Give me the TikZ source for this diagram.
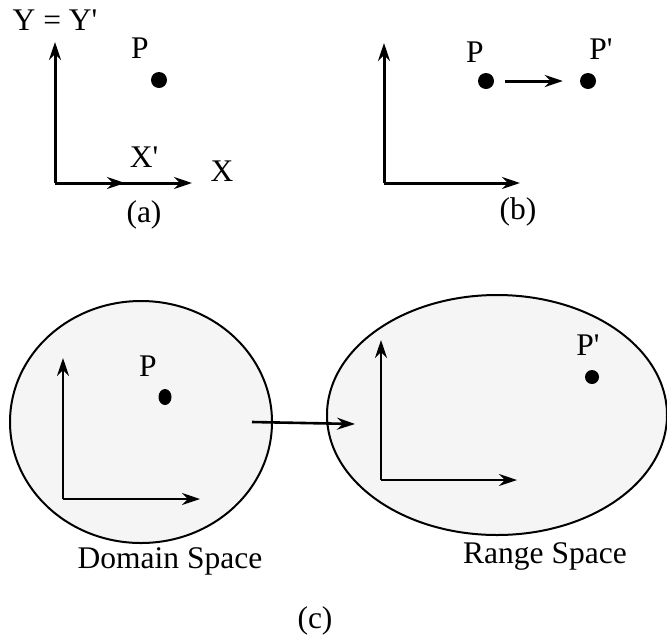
\documentclass[tikz,border=0pt]{standalone}
\usepackage{fontspec}
\setmainfont{Liberation Serif}
\usetikzlibrary{positioning,arrows.meta,shapes.geometric}
\definecolor{SpaceGray}{HTML}{F5F5F5}

\begin{document}
\begin{tikzpicture}[
  x=1pt, y=-1pt,
  axis/.style={-{Stealth[length=18pt,width=12pt,inset=6pt]},line width=3pt},
  thinaxis/.style={-{Stealth[length=18pt,width=12pt,inset=6pt]},line width=2.4pt},
  dotnode/.style={circle,fill=black,inner sep=0pt,minimum size=16pt},
  lbl/.style={anchor=base,inner sep=0pt,font=\fontsize{31.5}{36}\selectfont},
  spacebox/.style={ellipse,draw,line width=2pt,fill=SpaceGray,inner sep=0pt}
]
\useasboundingbox (0,0) rectangle (667,638);

% (a) axes before/after
\coordinate (oa) at (55,183);
\coordinate (ya) at (55,42);
\coordinate (xa) at (192,183);
\coordinate (xpa) at (125,183);
\draw[axis] (oa) -- (xpa);
\draw[axis] (oa) -- (xa);
\draw[axis] (oa) -- (ya);
\node[dotnode] (pa) at (159,80) {};
\node[lbl] (yla) at (55,30) {Y = Y\textquotesingle};
\node[lbl] (pla) at (140,58) {P};
\node[lbl] (xpla) at (144,167) {X\textquotesingle};
\node[lbl] (xla) at (222,181) {X};
\node[lbl] (capa) at (144,222) {(a)};

% (b) point moved
\coordinate (ob) at (384,183);
\draw[axis] (ob) -- (384,43);
\draw[axis] (ob) -- (520,183);
\node[dotnode] (pb) at (486,81) {};
\node[dotnode] (pbp) at (588,81) {};
\draw[axis,shorten <=11pt,shorten >=17pt] (pb) -- (pbp);
\node[lbl] (plb) at (475,62) {P};
\node[lbl] (pplb) at (601,59) {P\textquotesingle};
\node[lbl] (capb) at (518,219) {(b)};

% (c) domain and range
\node[spacebox,minimum width=262pt,minimum height=242pt] (domain) at (141,422) {};
\node[spacebox,minimum width=340pt,minimum height=240pt] (range) at (497,415) {};
\coordinate (oc) at (63,499);
\draw[thinaxis] (oc) -- (63,358);
\draw[thinaxis] (oc) -- (200,499);
\coordinate (od) at (381,480);
\draw[thinaxis] (od) -- (381,340);
\draw[thinaxis] (od) -- (517,480);
\node[ellipse,fill=black,inner sep=0pt,minimum width=13pt,minimum height=16pt] (pc) at (165,397) {};
\node[dotnode,minimum size=14pt] (pcp) at (592,377) {};
\node[lbl] (plc) at (148,376) {P};
\node[lbl] (pplc) at (588,355) {P\textquotesingle};
\coordinate (mapfrom) at (252,422);
\coordinate (mapto) at (355,424);
\draw[thinaxis,line width=2.6pt] (mapfrom) -- (mapto);
\node[lbl] (dlbl) at (170,568) {Domain Space};
\node[lbl] (rlbl) at (545,563) {Range Space};
\node[lbl] (capc) at (315,628) {(c)};
\end{tikzpicture}
\end{document}
